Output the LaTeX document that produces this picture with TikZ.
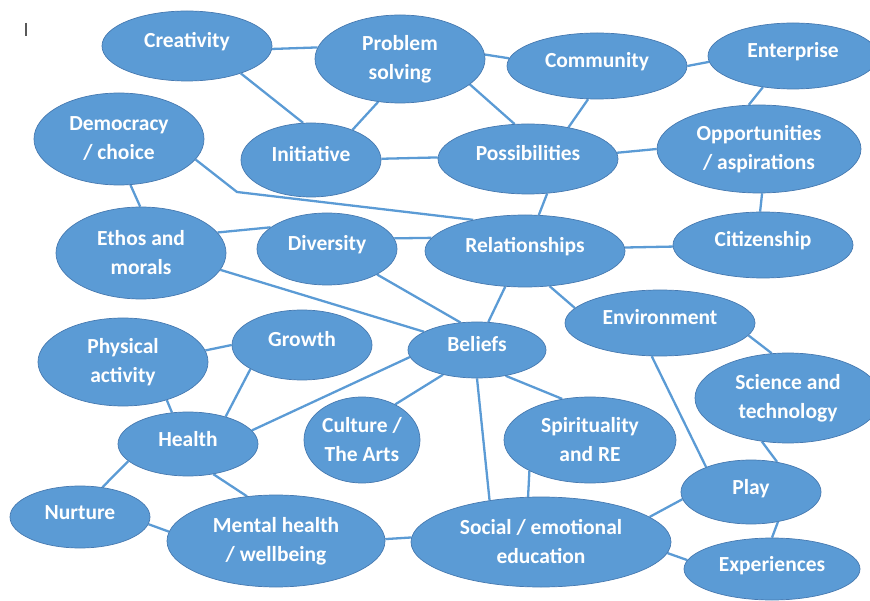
\documentclass[tikz,border=0pt]{standalone}
\usepackage{fontspec}
\setmainfont{Carlito}
\usetikzlibrary{shapes.geometric,backgrounds}
\definecolor{bubfill}{HTML}{5B9BD5}
\definecolor{bubedge}{HTML}{4679B0}
\definecolor{linec}{HTML}{5B9BD5}
\tikzset{
  bub/.style={ellipse, fill=bubfill, draw=bubedge, line width=0.7pt, inner sep=0pt,
    text=white, align=center, font=\bfseries\fontsize{21.5}{29}\selectfont},
  one/.style={text height=14pt, text depth=10pt},
  conn/.style={draw=linec, line width=2.3pt}
}
\newcommand{\bb}[7][]{\node[bub, #1, minimum width=#5pt, minimum height=#6pt] (#2) at (#3,#4) {#7};}
\begin{document}
\begin{tikzpicture}[x=1pt,y=-1pt]
\useasboundingbox (0,0) rectangle (870,601);
\draw[line width=1.2pt, draw=black!65] (26,23) -- (26,36);
\bb[one]{cre}{187}{46}{170}{70}{Creativity}
\bb{prob}{400}{59}{170}{88}{Problem\\solving}
\bb[one]{comm}{597}{66}{180}{66}{Community}
\bb[one]{ent}{793}{56}{170}{66}{Enterprise}
\bb{dem}{119}{139}{170}{92}{Democracy\\/ choice}
\bb[one]{ini}{311}{160}{140}{74}{Initiative}
\bb[one]{poss}{528}{159}{180}{70}{Possibilities}
\bb{opp}{759}{149}{204}{88}{Opportunities\\/ aspirations}
\bb{eth}{141}{253}{170}{92}{Ethos and\\morals}
\bb[one]{div}{327}{249}{140}{72}{Diversity}
\bb[one]{rel}{525}{251}{200}{72}{Relationships}
\bb[one]{cit}{763}{245}{180}{66}{Citizenship}
\bb{phys}{123}{362}{170}{88}{Physical\\activity}
\bb[one]{grow}{302}{345}{140}{70}{Growth}
\bb[one]{bel}{477}{350}{138}{56}{Beliefs}
\bb[one]{env}{660}{323}{190}{66}{Environment}
\bb{sci}{788}{398}{186}{90}{Science and\\technology}
\bb[one]{hea}{188}{444}{140}{64}{Health}
\bb{cul}{362}{440}{116}{86}{Culture /\\The Arts}
\bb{spir}{590}{440}{172}{86}{Spirituality\\and RE}
\bb[one]{play}{751}{492}{140}{64}{Play}
\bb[one]{nur}{80}{517}{140}{62}{Nurture}
\bb{ment}{276}{541}{218}{92}{Mental health\\/ wellbeing}
\bb{soc}{541}{542}{260}{90}{Social / emotional\\education}
\bb[one]{exp}{772}{569}{176}{62}{Experiences}
\coordinate (bend) at (237,192);
\begin{pgfonlayer}{background}
\draw[conn] (cre.-2) -- (prob.172.5);
\draw[conn] (cre.-27) -- (ini.102);
\draw[conn] (prob.243) -- (ini.36);
\draw[conn] (prob.3.4) -- (comm.175);
\draw[conn] (prob.-20) -- (poss.111);
\draw[conn] (comm.0) -- (ent.184.8);
\draw[conn] (comm.-105) -- (poss.38.7);
\draw[conn] (ent.-134) -- (opp.103);
\draw[conn] (ini.1) -- (poss.179);
\draw[conn] (poss.4) -- (opp.180.5);
\draw[conn] (poss.-61.5) -- (rel.69.6);
\draw[conn] (opp.-86) -- (cit.95);
\draw[conn] (dem.-15) -- (bend) -- (rel.149);
\draw[conn] (dem.-76) -- (eth.91);
\draw[conn] (eth.15) -- (div.159);
\draw[conn] (div.9) -- (rel.172.4);
\draw[conn] (rel.2.3) -- (cit.181);
\draw[conn] (eth.-12.5) -- (bel.161.6);
\draw[conn] (div.-27.5) -- (bel.121);
\draw[conn] (rel.-119) -- (bel.68.5);
\draw[conn] (rel.-55) -- (env.170.5);
\draw[conn] (phys.8) -- (grow.180);
\draw[conn] (phys.-41) -- (hea.117);
\draw[conn] (grow.205) -- (hea.36.6);
\draw[conn] (hea.12) -- (bel.186);
\draw[conn] (cul.47) -- (bel.216);
\draw[conn] (bel.-42) -- (spir.124);
\draw[conn] (bel.-90) -- (soc.141);
\draw[conn] (spir.207) -- (soc.106.6);
\draw[conn] (hea.196) -- (nur.53);
\draw[conn] (hea.-50) -- (ment.123);
\draw[conn] (nur.-6.7) -- (ment.175);
\draw[conn] (ment.1.6) -- (soc.178);
\draw[conn] (env.-8.8) -- (sci.110);
\draw[conn] (env.-104) -- (play.151);
\draw[conn] (sci.-121) -- (play.49);
\draw[conn] (play.186.6) -- (soc.13);
\draw[conn] (play.-48) -- (exp.90);
\draw[conn] (soc.-5.4) -- (exp.174.6);
\end{pgfonlayer}
\end{tikzpicture}
\end{document}
